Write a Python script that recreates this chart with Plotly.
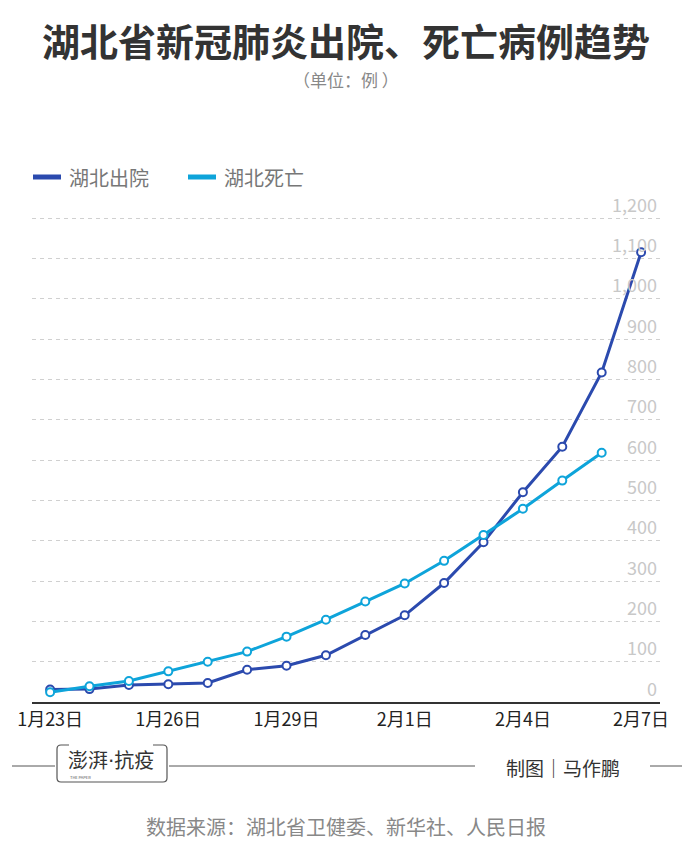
import plotly.graph_objects as go

# ---- data ----
days = ["1月23日", "1月24日", "1月25日", "1月26日", "1月27日", "1月28日", "1月29日", "1月30日",
        "1月31日", "2月1日", "2月2日", "2月3日", "2月4日", "2月5日", "2月6日", "2月7日"]
discharged = [31, 32, 42, 44, 47, 80, 90, 116, 166, 215, 295, 396, 520, 633, 817, 1115]
deaths = [24, 39, 52, 76, 100, 125, 162, 204, 249, 294, 350, 414, 479, 549, 618]
tick_idx = [0, 3, 6, 9, 12, 15]
tick_labels = ["1月23日", "1月26日", "1月29日", "2月1日", "2月4日", "2月7日"]
y_ticks = [0, 100, 200, 300, 400, 500, 600, 700, 800, 900, 1000, 1100, 1200]

FONT = "Noto Sans CJK SC"
DARK = "#2b4aae"
CYAN = "#0ea4da"

W, H = 692, 857
L, R, T, B = 32, 32, 214, 155
PW, PH = W - L - R, H - T - B


def px(x):
    return (x - L) / PW


def py(y):
    return (H - B - y) / PH


x_dark = list(range(len(discharged)))
x_cyan = list(range(len(deaths)))

fig = go.Figure()
fig.add_trace(go.Scatter(
    x=x_dark, y=discharged, mode="lines+markers", name="湖北出院",
    line=dict(color=DARK, width=3),
    marker=dict(size=8, color="white", line=dict(color=DARK, width=2)),
    showlegend=False, hoverinfo="skip"))
fig.add_trace(go.Scatter(
    x=x_cyan, y=deaths, mode="lines+markers", name="湖北死亡",
    line=dict(color=CYAN, width=3),
    marker=dict(size=8, color="white", line=dict(color=CYAN, width=2)),
    showlegend=False, hoverinfo="skip"))

fig.update_layout(
    width=W, height=H, autosize=False,
    margin=dict(l=L, r=R, t=T, b=B, pad=0),
    paper_bgcolor="white", plot_bgcolor="white",
    font=dict(family=FONT, color="#333"),
    xaxis=dict(
        range=[-0.46, 15.48], tickmode="array", tickvals=tick_idx, ticktext=tick_labels,
        showgrid=False, zeroline=False, showline=True, linecolor="#333", linewidth=2,
        ticks="", ticklabeloverflow="allow",
        tickfont=dict(size=18, color="#222", family=FONT), fixedrange=True),
    yaxis=dict(
        range=[0, 1210], tickmode="array", tickvals=y_ticks, side="right",
        ticklabelposition="inside top", tickformat=",d", ticklabeloverflow="allow",
        tickfont=dict(size=18, color="#c8c8c8", family=FONT),
        showgrid=True, gridcolor="#d0d0d0", gridwidth=1, griddash="4px,4px",
        zeroline=False, showline=False, ticks="", fixedrange=True),
)

ann = []
# title & subtitle
ann.append(dict(text="<b>湖北省新冠肺炎出院、死亡病例趋势</b>", x=px(346), y=py(39), xref="paper", yref="paper",
                xanchor="center", yanchor="middle", showarrow=False,
                font=dict(size=38, color="#333", family=FONT)))
ann.append(dict(text="（单位：例 ）", x=px(346), y=py(79), xref="paper", yref="paper",
                xanchor="center", yanchor="middle", showarrow=False,
                font=dict(size=17, color="#888", family=FONT)))
# legend
ann.append(dict(text="湖北出院", x=px(67), y=py(177), xref="paper", yref="paper",
                xanchor="left", yanchor="middle", showarrow=False,
                font=dict(size=20, color="#777", family=FONT)))
ann.append(dict(text="湖北死亡", x=px(222), y=py(177), xref="paper", yref="paper",
                xanchor="left", yanchor="middle", showarrow=False,
                font=dict(size=20, color="#777", family=FONT)))
# footer
ann.append(dict(text="澎湃<span style='font-family:DejaVu Sans'>·</span>抗疫", x=px(111), y=py(759),
                xref="paper", yref="paper", xanchor="center", yanchor="middle", showarrow=False,
                font=dict(size=20, color="#333", family=FONT)))
ann.append(dict(text="THE PAPER", x=px(80), y=py(777), xref="paper", yref="paper",
                xanchor="center", yanchor="middle", showarrow=False,
                font=dict(size=4, color="#555", family=FONT)))
ann.append(dict(text="制图｜马作鹏", x=px(563), y=py(767), xref="paper", yref="paper",
                xanchor="center", yanchor="middle", showarrow=False,
                font=dict(size=19, color="#333", family=FONT)))
ann.append(dict(text="数据来源：湖北省卫健委、新华社、人民日报", x=px(346), y=py(826), xref="paper", yref="paper",
                xanchor="center", yanchor="middle", showarrow=False,
                font=dict(size=20, color="#888", family=FONT)))

shapes = []
# legend lines
shapes.append(dict(type="line", xref="paper", yref="paper", x0=px(33), x1=px(61), y0=py(177), y1=py(177),
                   line=dict(color=DARK, width=5)))
shapes.append(dict(type="line", xref="paper", yref="paper", x0=px(188), x1=px(216), y0=py(177), y1=py(177),
                   line=dict(color=CYAN, width=5)))
# footer rules
for a, b in [(12, 55), (169, 475), (650, 682)]:
    shapes.append(dict(type="line", xref="paper", yref="paper", x0=px(a), x1=px(b), y0=py(766), y1=py(766),
                       line=dict(color="#555", width=1)))
# logo frame (rounded, with gaps on top edge)
bx0, bx1, by0, by1, r = 57, 167, 745, 782, 4


def P(x, y):
    return f"{px(x)},{py(y)}"


frame = (f"M {P(bx0 + 12, by0)} L {P(bx0 + r, by0)} Q {P(bx0, by0)} {P(bx0, by0 + r)} "
         f"L {P(bx0, by1 - r)} Q {P(bx0, by1)} {P(bx0 + r, by1)} L {P(bx1 - r, by1)} "
         f"Q {P(bx1, by1)} {P(bx1, by1 - r)} L {P(bx1, by0 + r)} Q {P(bx1, by0)} {P(bx1 - r, by0)} "
         f"L {P(bx1 - 14, by0)}")
shapes.append(dict(type="path", xref="paper", yref="paper", path=frame,
                   line=dict(color="#555", width=1.2)))

fig.update_layout(annotations=ann, shapes=shapes)
fig.write_html("out.html")
